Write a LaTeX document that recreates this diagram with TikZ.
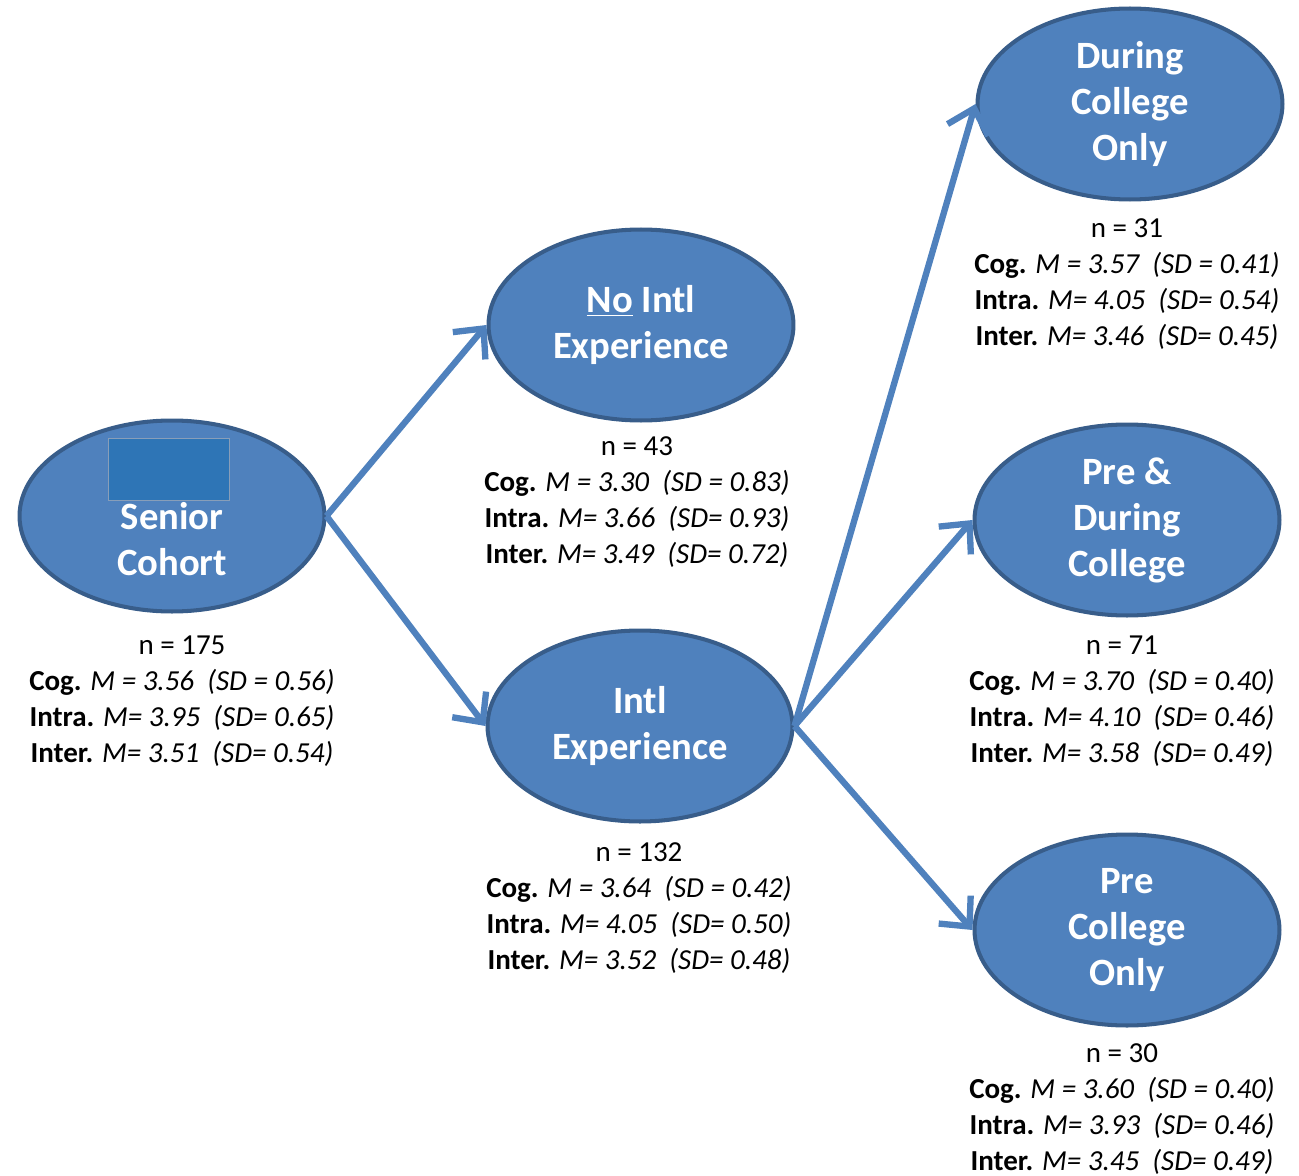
\documentclass[tikz,border=0pt]{standalone}
\usepackage{fontspec}
\setmainfont{Carlito}
\usetikzlibrary{arrows.meta,shapes.geometric}
\begin{document}
\begin{tikzpicture}[x=0.02cm,y=-0.02cm]
\newcommand{\statlines}[7]{n = #1\\\textbf{Cog.} \textit{M = #2~ (SD = #3)}\\\textbf{Intra.} \textit{M= #4~ (SD= #5)}\\\textbf{Inter.} \textit{M= #6~ (SD= #7)}}
\definecolor{groupfill}{RGB}{79,129,189}
\definecolor{groupline}{RGB}{56,93,138}
\definecolor{maskcolor}{RGB}{46,117,182}
\tikzstyle{group}=[ellipse,draw=groupline,line width=2.3pt,fill=groupfill,minimum width=6.1cm,minimum height=3.82cm,inner sep=0pt,text=white,align=center,font=\bfseries\fontsize{22}{26.2}\selectfont]
\tikzstyle{stats}=[align=center,font=\fontsize{16.5}{20.5}\selectfont]
\tikzstyle{flow}=[groupfill,line width=3.6pt,-{Straight Barb[length=0.45cm,width=0.85cm]}]
\useasboundingbox (0,0) rectangle (1299,1176);
\node[group] (senior) at (172,516) {\vphantom{Senior}\\Senior\\Cohort};
\node[group] (nointl) at (641,325) {\underline{No} Intl\\Experience};
\node[group] (intl) at (640,726) {Intl\\Experience};
\node[group] (during) at (1130,104) {During\\College\\Only};
\node[group] (preduring) at (1127,520) {Pre \&\\During\\College};
\node[group] (pre) at (1127,930) {Pre\\College\\Only};
\fill[maskcolor,draw=groupline!60,line width=0.4pt] (108,438) rectangle (229,500);
\node[stats] (seniorstats) at (182,701) {\statlines{175}{3.56}{0.56}{3.95}{0.65}{3.51}{0.54}};
\node[stats] (nointlstats) at (637,502) {\statlines{43}{3.30}{0.83}{3.66}{0.93}{3.49}{0.72}};
\node[stats] (intlstats) at (639,908) {\statlines{132}{3.64}{0.42}{4.05}{0.50}{3.52}{0.48}};
\node[stats] (duringstats) at (1127,284) {\statlines{31}{3.57}{0.41}{4.05}{0.54}{3.46}{0.45}};
\node[stats] (preduringstats) at (1122,701) {\statlines{71}{3.70}{0.40}{4.10}{0.46}{3.58}{0.49}};
\node[stats] (prestats) at (1122,1109) {\statlines{30}{3.60}{0.40}{3.93}{0.46}{3.45}{0.49}};
\draw[flow] (senior.east) -- (nointl.west);
\draw[flow] (senior.east) -- (intl.west);
\draw[flow] (intl.east) -- (during.west);
\draw[flow] (intl.east) -- (preduring.west);
\draw[flow] (intl.east) -- (pre.west);
\end{tikzpicture}
\end{document}
